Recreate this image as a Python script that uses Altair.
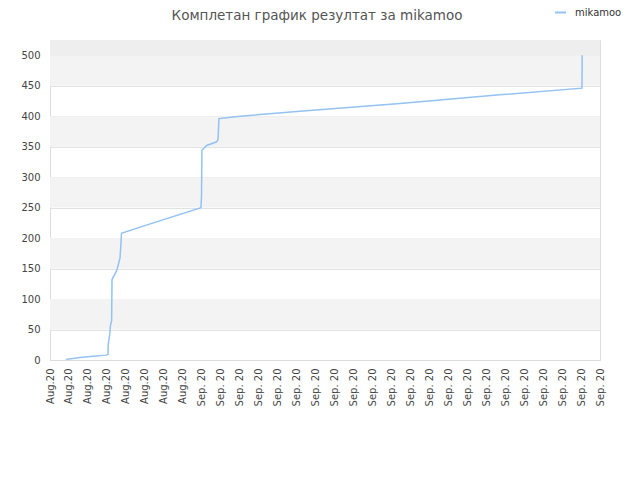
import altair as alt
import pandas as pd

# x positions are in tick-index units (0..29), y are cumulative points
line_x = [0.84, 1.58, 2.28, 2.95, 3.06, 3.07, 3.14, 3.19, 3.25, 3.27, 3.52, 3.69, 3.74, 3.77,
          4.75, 7.96, 7.99, 8.01, 8.26, 8.79, 8.86, 8.91, 10.02, 13.18, 18.45, 23.72, 28.05, 28.06]
line_y = [1, 4, 6, 8, 9, 25, 40, 57, 65, 132, 147, 167, 190, 208,
          218, 250, 270, 344, 352, 358, 362, 396, 400, 408, 421, 435, 446, 500]
series_name = "mikamoo"

tick_labels = ["Aug.20"] * 8 + ["Sep. 20"] * 22

band_lo = [50, 150, 250, 350, 450, 500]
band_hi = [100, 200, 300, 400, 500, 525]
band_fill = ["#f3f3f3", "#f3f3f3", "#f3f3f3", "#f3f3f3", "#f3f3f3", "#eeeeee"]

FONT = "DejaVu Sans"

line_df = pd.DataFrame({"x": line_x, "y": line_y, "order": list(range(len(line_x))),
                        "series": series_name})
band_df = pd.DataFrame({"lo": band_lo, "hi": band_hi, "fill": band_fill,
                        "x0": 0, "x1": len(tick_labels) - 1})

label_expr = "[" + ",".join("'%s'" % t for t in tick_labels) + "][datum.value]"

xscale = alt.Scale(domain=[0, len(tick_labels) - 1], nice=False, zero=False)
yscale = alt.Scale(domain=[0, 525], nice=False)

x_axis = alt.Axis(values=list(range(len(tick_labels))), labelExpr=label_expr,
                  labelAngle=270, labelAlign="right", labelBaseline="middle",
                  labelPadding=8, ticks=False, grid=False, domainColor="#dddddd",
                  labelFont=FONT, labelFontSize=10, labelColor="#444444",
                  title=None, labelOverlap=False)
y_axis = alt.Axis(values=list(range(0, 501, 50)), ticks=False, grid=True,
                  gridColor="#e2e2e2", domain=False, labelPadding=10,
                  labelFont=FONT, labelFontSize=10, labelColor="#444444",
                  title=None)

bands = alt.Chart(band_df).mark_rect().encode(
    x=alt.X("x0:Q", scale=xscale, axis=x_axis),
    x2="x1:Q",
    y=alt.Y("lo:Q", scale=yscale, axis=y_axis),
    y2="hi:Q",
    fill=alt.Fill("fill:N", scale=None),
)

line = alt.Chart(line_df).mark_line(strokeWidth=1.5, clip=True).encode(
    x=alt.X("x:Q", scale=xscale, axis=x_axis),
    y=alt.Y("y:Q", scale=yscale, axis=y_axis),
    order="order:Q",
    color=alt.Color("series:N", scale=alt.Scale(range=["#94c2f2"]),
                    legend=alt.Legend(title=None, orient="none", legendX=504, legendY=-34,
                                      symbolType="stroke", symbolStrokeWidth=2,
                                      symbolSize=120, labelFont=FONT, labelFontSize=10,
                                      labelColor="#333333", labelOffset=8, padding=0)),
)

chart = alt.layer(bands, line).properties(
    width=550, height=320,
    padding={"left": 42, "top": 32, "right": 32, "bottom": 112},
    autosize=alt.AutoSizeParams(type="none"),
    title=alt.TitleParams("Комплетан график резултат за mikamoo", font=FONT, fontSize=13.5,
                          fontWeight="normal", color="#555555", anchor="middle",
                          frame="group", dx=-8, dy=16, offset=0),
).configure_view(stroke="#dddddd")

chart.save("out.html", embed_options={"renderer": "svg", "actions": False})
